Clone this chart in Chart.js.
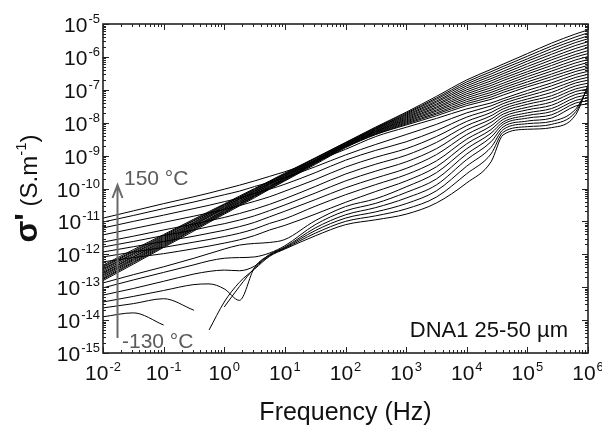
<!DOCTYPE html>
<html>
<head>
<meta charset="utf-8">
<script src="https://cdn.jsdelivr.net/npm/chart.js@4.4.1/dist/chart.umd.min.js"></script>
<style>
  html, body { margin: 0; padding: 0; background: #fff; }
  #wrap { width: 602px; height: 427px; }
</style>
</head>
<body>
<div id="wrap"><canvas id="chart" width="602" height="427"></canvas></div>
<script>
// measurement frequencies (Hz)
const freq = [0.01, 0.0316, 0.1, 0.316, 0.562, 1, 1.78, 3.16, 5.62, 10, 31.6, 100, 316, 1000, 3162, 10000, 25119, 39811, 100000, 251189, 630957, 1000000];

// log10(sigma') per temperature, read at the frequencies above (null = no data)
const s150 = [-10.90, -10.68, -10.46, -10.25, -10.14, -10.02, -9.90, -9.77, -9.63, -9.49, -9.17, -8.81, -8.42, -8.14, -7.87, -7.58, -7.40, -7.27, -7.02, -6.79, -6.53, -6.44];
const s140 = [-11.02, -10.82, -10.61, -10.41, -10.30, -10.19, -10.08, -9.94, -9.81, -9.67, -9.34, -8.98, -8.66, -8.36, -8.05, -7.70, -7.49, -7.34, -7.11, -6.88, -6.62, -6.53];
const s130 = [-11.20, -11.00, -10.81, -10.61, -10.51, -10.40, -10.29, -10.15, -10.02, -9.87, -9.52, -9.14, -8.84, -8.58, -8.24, -7.83, -7.59, -7.42, -7.19, -6.98, -6.71, -6.62];
const s120 = [-11.41, -11.22, -11.03, -10.84, -10.74, -10.64, -10.52, -10.39, -10.25, -10.08, -9.73, -9.35, -9.05, -8.79, -8.42, -7.96, -7.69, -7.50, -7.28, -7.08, -6.79, -6.71];
const s110 = [-11.63, -11.45, -11.26, -11.08, -10.98, -10.88, -10.76, -10.63, -10.48, -10.31, -9.94, -9.56, -9.26, -8.99, -8.60, -8.09, -7.79, -7.58, -7.36, -7.18, -6.88, -6.80];
const s100 = [-11.78, -11.61, -11.43, -11.26, -11.16, -11.07, -10.96, -10.83, -10.67, -10.50, -10.14, -9.77, -9.47, -9.19, -8.79, -8.22, -7.89, -7.66, -7.44, -7.27, -6.97, -6.89];
const s90 = [-11.93, -11.77, -11.61, -11.45, -11.36, -11.27, -11.16, -11.03, -10.86, -10.69, -10.34, -9.98, -9.68, -9.39, -8.97, -8.36, -7.99, -7.74, -7.53, -7.37, -7.05, -6.98];
const s80 = [-12.08, -11.93, -11.79, -11.63, -11.55, -11.46, -11.36, -11.23, -11.06, -10.92, -10.54, -10.19, -9.88, -9.58, -9.16, -8.50, -8.10, -7.82, -7.61, -7.47, -7.14, -7.07];
const s70 = [-12.23, -12.10, -11.98, -11.83, -11.75, -11.66, -11.56, -11.43, -11.26, -11.12, -10.78, -10.42, -10.09, -9.77, -9.34, -8.64, -8.21, -7.90, -7.70, -7.57, -7.23, -7.16];
const s60 = [-12.33, -11.86, -11.40, -10.93, -10.70, -10.47, -10.23, -10.00, -9.77, -9.53, -9.07, -8.60, -8.13, -7.68, -7.20, -6.70, -6.38, -6.22, -5.90, -5.58, -5.30, -5.18];
const s50 = [-12.37, -11.90, -11.43, -10.96, -10.73, -10.49, -10.26, -10.02, -9.79, -9.55, -9.08, -8.61, -8.15, -7.71, -7.25, -6.76, -6.45, -6.29, -5.98, -5.67, -5.39, -5.27];
const s40 = [-12.40, -11.93, -11.46, -10.98, -10.75, -10.51, -10.27, -10.04, -9.80, -9.57, -9.09, -8.62, -8.17, -7.74, -7.29, -6.82, -6.52, -6.36, -6.06, -5.75, -5.48, -5.36];
const s30 = [-12.44, -11.97, -11.49, -11.02, -10.78, -10.54, -10.30, -10.07, -9.83, -9.59, -9.12, -8.64, -8.18, -7.77, -7.34, -6.88, -6.59, -6.44, -6.13, -5.84, -5.56, -5.45];
const s20 = [-12.47, -11.99, -11.52, -11.04, -10.80, -10.56, -10.32, -10.08, -9.84, -9.61, -9.13, -8.65, -8.20, -7.80, -7.38, -6.94, -6.66, -6.51, -6.21, -5.92, -5.65, -5.54];
const s10 = [-12.51, -12.03, -11.55, -11.07, -10.83, -10.59, -10.34, -10.10, -9.86, -9.62, -9.14, -8.66, -8.22, -7.83, -7.43, -7.00, -6.73, -6.58, -6.29, -6.01, -5.74, -5.63];
const s0 = [-12.55, -12.07, -11.58, -11.10, -10.85, -10.61, -10.37, -10.13, -9.88, -9.64, -9.16, -8.67, -8.24, -7.86, -7.47, -7.06, -6.80, -6.65, -6.37, -6.09, -5.83, -5.72];
const sM10 = [-12.58, -12.09, -11.61, -11.12, -10.87, -10.63, -10.39, -10.14, -9.90, -9.66, -9.17, -8.68, -8.26, -7.89, -7.52, -7.12, -6.87, -6.72, -6.45, -6.18, -5.92, -5.81];
const sM20 = [-12.62, -12.13, -11.64, -11.15, -10.91, -10.66, -10.42, -10.17, -9.93, -9.68, -9.19, -8.70, -8.27, -7.92, -7.56, -7.18, -6.94, -6.80, -6.52, -6.26, -6.00, -5.90];
const sM30 = [-12.65, -12.16, -11.67, -11.17, -10.93, -10.68, -10.43, -10.19, -9.94, -9.70, -9.20, -8.71, -8.29, -7.95, -7.61, -7.24, -7.01, -6.87, -6.60, -6.35, -6.09, -5.99];
const sM40 = [-12.69, -12.19, -11.70, -11.20, -10.95, -10.71, -10.46, -10.21, -9.96, -9.71, -9.22, -8.72, -8.31, -7.98, -7.65, -7.30, -7.08, -6.94, -6.68, -6.43, -6.18, -6.08];
const sM50 = [-12.73, -12.23, -11.73, -11.23, -10.98, -10.73, -10.48, -10.23, -9.98, -9.73, -9.23, -8.73, -8.33, -8.01, -7.70, -7.36, -7.15, -7.01, -6.76, -6.52, -6.27, -6.17];
const sM60 = [-12.76, -12.26, -11.76, -11.25, -11.00, -10.75, -10.50, -10.25, -10.00, -9.75, -9.24, -8.74, -8.35, -8.04, -7.74, -7.42, -7.22, -7.08, -6.84, -6.60, -6.36, -6.26];
const sM70 = [-12.80, -12.30, -11.79, -11.29, -11.03, -10.78, -10.53, -10.28, -10.02, -9.77, -9.27, -8.76, -8.36, -8.07, -7.79, -7.48, -7.29, -7.16, -6.91, -6.69, -6.44, -6.35];
const sM80 = [-12.87, -12.62, -12.38, -12.12, -11.98, -11.84, -11.72, -11.67, -11.64, -11.55, -10.98, -10.55, -10.31, -9.95, -9.52, -8.79, -8.32, -7.98, -7.78, -7.66, -7.32, -7.25];
const sM90 = [-13.02, -12.78, -12.55, -12.32, -12.20, -12.12, -12.10, -12.08, -11.96, -11.74, -11.10, -10.68, -10.45, -10.12, -9.71, -8.95, -8.44, -8.05, -7.86, -7.76, -7.40, -7.34];
const sM100 = [-13.24, -13.04, -12.82, -12.60, -12.52, -12.48, -12.50, -12.36, -12.00, -11.78, -11.20, -10.80, -10.58, -10.29, -9.89, -9.12, -8.58, -8.13, -7.95, -7.86, -7.49, -7.43];
const sM110 = [-13.45, -13.28, -13.10, -12.92, -12.90, -13.05, -13.40, -12.40, -12.02, -11.80, -11.28, -10.90, -10.71, -10.46, -10.07, -9.32, -8.75, -8.21, -8.03, -7.96, -7.58, -6.95];
const sM120 = [-13.63, -13.50, -13.35, -13.70, null, -13.60, -12.98, -12.42, -12.04, -11.82, -11.36, -11.00, -10.83, -10.62, -10.26, -9.55, -8.95, -8.29, -8.12, -8.05, -7.66, -6.90];
const sM130 = [-13.90, -13.78, -14.15, null, -14.30, -13.45, -12.85, -12.45, -12.06, -11.84, -11.44, -11.10, -10.95, -10.78, -10.44, -9.83, -9.19, -8.37, -8.20, -8.15, -7.75, -6.85];

const curves = [s150, s140, s130, s120, s110, s100, s90, s80, s70, s60, s50, s40, s30, s20, s10, s0,
  sM10, sM20, sM30, sM40, sM50, sM60, sM70, sM80, sM90, sM100, sM110, sM120, sM130];

// decade exponents used for the axis tick labels
const xExps = [-2, -1, 0, 1, 2, 3, 4, 5, 6];
const yExps = [-15, -14, -13, -12, -11, -10, -9, -8, -7, -6, -5];

const FONT = '"Liberation Sans", Arial, Helvetica, sans-serif';

function powLabel(ctx, exp, x, base, align, size) {
  ctx.font = `${size}px ${FONT}`;
  const wb = ctx.measureText("10").width;
  ctx.font = `${Math.round(size * 0.62)}px ${FONT}`;
  const we = ctx.measureText(String(exp)).width;
  const total = wb + we + 1;
  let x0 = x - total / 2;
  if (align === "right") x0 = x - total;
  ctx.textAlign = "left";
  ctx.font = `${size}px ${FONT}`;
  ctx.fillText("10", x0, base);
  ctx.font = `${Math.round(size * 0.62)}px ${FONT}`;
  ctx.fillText(String(exp), x0 + wb + 1, base - 9);
}

const framePlugin = {
  id: "frame",
  afterDraw(chart) {
    const { ctx, chartArea: a, scales } = chart;
    const xs = scales.x, ys = scales.y;
    ctx.save();
    ctx.strokeStyle = "#222";
    ctx.fillStyle = "#111";

    // ticks, inside on all four sides
    ctx.lineWidth = 1;
    ctx.beginPath();
    for (let i = 0; i < xExps.length; i++) {
      for (let m = 1; m <= 9; m++) {
        if (i === xExps.length - 1 && m > 1) break;
        const px = Math.round(xs.getPixelForValue(m * Math.pow(10, xExps[i]))) + 0.5;
        const len = m === 1 ? 6 : 3;
        ctx.moveTo(px, a.bottom); ctx.lineTo(px, a.bottom - len);
        ctx.moveTo(px, a.top); ctx.lineTo(px, a.top + len);
      }
    }
    for (let i = 0; i < yExps.length; i++) {
      for (let m = 1; m <= 9; m++) {
        if (i === yExps.length - 1 && m > 1) break;
        const py = Math.round(ys.getPixelForValue(m * Math.pow(10, yExps[i]))) + 0.5;
        const len = m === 1 ? 6 : 3;
        ctx.moveTo(a.left, py); ctx.lineTo(a.left + len, py);
        ctx.moveTo(a.right, py); ctx.lineTo(a.right - len, py);
      }
    }
    ctx.stroke();

    ctx.lineWidth = 1.6;
    ctx.strokeRect(a.left, a.top, a.right - a.left, a.bottom - a.top);

    // tick labels
    ctx.textBaseline = "alphabetic";
    xExps.forEach((e) => powLabel(ctx, e, xs.getPixelForValue(Math.pow(10, e)), 380, "center", 21));
    yExps.forEach((e) => powLabel(ctx, e, a.left - 3, ys.getPixelForValue(Math.pow(10, e)) + 8, "right", 21));

    // axis titles
    ctx.textAlign = "center";
    ctx.font = `25px ${FONT}`;
    ctx.fillText("Frequency (Hz)", (a.left + a.right) / 2, 420);

    ctx.save();
    ctx.translate(37, (a.top + a.bottom) / 2);
    ctx.rotate(-Math.PI / 2);
    const parts = [
      { t: "\u03c3'", f: `bold 32px ${FONT}`, dy: 0 },
      { t: " (S.m", f: `24px ${FONT}`, dy: 0 },
      { t: "-1", f: `15px ${FONT}`, dy: -11 },
      { t: ")", f: `24px ${FONT}`, dy: 0 },
    ];
    let total = 0;
    parts.forEach((p) => { ctx.font = p.f; p.w = ctx.measureText(p.t).width; total += p.w; });
    let cx = -total / 2;
    ctx.textAlign = "left";
    parts.forEach((p) => { ctx.font = p.f; ctx.fillText(p.t, cx, p.dy); cx += p.w; });
    ctx.restore();

    // temperature arrow
    ctx.strokeStyle = "#6a6a6a";
    ctx.lineWidth = 2;
    ctx.beginPath();
    ctx.moveTo(117.5, 338); ctx.lineTo(117.5, 187);
    ctx.moveTo(112.5, 198); ctx.lineTo(117.5, 185); ctx.lineTo(122.5, 198);
    ctx.stroke();

    ctx.fillStyle = "#5c5c5c";
    ctx.font = `21px ${FONT}`;
    ctx.textAlign = "left";
    ctx.fillText("150 \u00b0C", 124, 185);
    ctx.fillText("-130 \u00b0C", 122, 348);

    ctx.fillStyle = "#111";
    ctx.font = `22px ${FONT}`;
    ctx.textAlign = "right";
    ctx.fillText("DNA1 25-50 \u00b5m", 568, 337);
    ctx.restore();
  },
};

new Chart(document.getElementById("chart"), {
  type: "line",
  data: {
    datasets: curves.map((c) => ({
      data: c.map((v, i) => ({ x: freq[i], y: v === null ? null : Math.pow(10, v) })),
      borderColor: "#000",
      borderWidth: 1,
      pointRadius: 0,
      cubicInterpolationMode: "monotone",
      fill: false,
    })),
  },
  options: {
    responsive: false,
    animation: false,
    layout: { padding: { left: 103, top: 24, right: 14, bottom: 74 } },
    scales: {
      x: { type: "logarithmic", min: 0.01, max: 1e6, display: false },
      y: { type: "logarithmic", min: 1e-15, max: 1e-5, display: false },
    },
    plugins: { legend: { display: false }, tooltip: { enabled: false } },
  },
  plugins: [framePlugin],
});
</script>
</body>
</html>
